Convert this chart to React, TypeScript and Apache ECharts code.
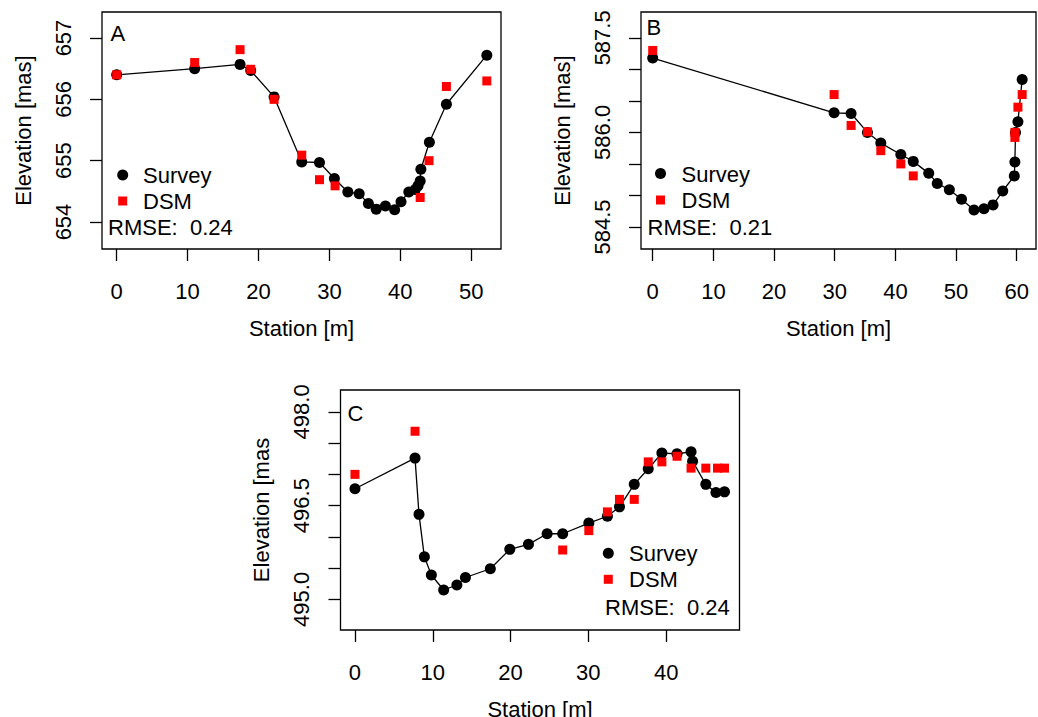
import React, { useEffect, useRef } from "react";
import * as echarts from "echarts";

// ---------- Data ----------
const stationA = [0, 11.0, 17.4, 18.9, 22.2, 26.1, 28.6, 30.7, 32.6, 34.2, 35.5, 36.6, 37.9, 39.2, 40.1, 41.2, 42.1, 42.5, 42.8, 42.9, 44.1, 46.5, 52.2];
const surveyA = [656.40, 656.50, 656.57, 656.47, 656.04, 654.98, 654.97, 654.71, 654.49, 654.46, 654.30, 654.21, 654.26, 654.20, 654.33, 654.49, 654.53, 654.59, 654.67, 654.86, 655.30, 655.92, 656.72];
const dsmStationA = [0, 11.0, 17.4, 18.9, 22.2, 26.1, 28.6, 30.8, 42.8, 44.05, 46.5, 52.2];
const dsmA = [656.40, 656.60, 656.81, 656.49, 656.00, 655.09, 654.69, 654.59, 654.40, 655.00, 656.21, 656.30];

const stationB = [0, 29.9, 32.7, 35.4, 37.6, 40.9, 42.95, 45.5, 46.9, 48.9, 50.9, 52.96, 54.6, 56.1, 57.7, 59.6, 59.7, 59.8, 60.2, 60.9];
const surveyB = [587.18, 586.31, 586.30, 586.00, 585.83, 585.65, 585.54, 585.35, 585.19, 585.09, 584.94, 584.77, 584.79, 584.85, 585.07, 585.31, 585.53, 586.00, 586.17, 586.84];
const dsmStationB = [0, 29.9, 32.7, 35.4, 37.6, 40.9, 42.95, 59.7, 59.7, 60.2, 60.9];
const dsmB = [587.30, 586.60, 586.11, 586.01, 585.71, 585.50, 585.31, 586.00, 585.92, 586.40, 586.60];

const stationC = [0, 7.72, 8.23, 8.92, 9.82, 11.4, 13.1, 14.2, 17.4, 19.9, 22.3, 24.7, 26.7, 30.06, 32.45, 34.0, 35.9, 37.7, 39.45, 41.4, 43.2, 43.4, 45.1, 46.4, 47.5];
const surveyC = [496.77, 497.26, 496.36, 495.68, 495.39, 495.15, 495.23, 495.35, 495.49, 495.80, 495.88, 496.05, 496.05, 496.22, 496.33, 496.48, 496.84, 497.09, 497.34, 497.33, 497.36, 497.21, 496.84, 496.71, 496.72];
const dsmStationC = [0, 7.72, 26.7, 30.06, 32.45, 34.0, 35.9, 37.7, 39.45, 41.4, 43.2, 45.1, 46.6, 47.5];
const dsmC = [497.0, 497.69, 495.79, 496.10, 496.40, 496.60, 496.60, 497.20, 497.20, 497.29, 497.10, 497.10, 497.10, 497.10];

const xTicksA = [0, 10, 20, 30, 40, 50];
const yTicksA = [654, 655, 656, 657];
const yLabelsA = [654, 655, 656, 657];
const xTicksB = [0, 10, 20, 30, 40, 50, 60];
const yTicksB = [584.5, 585, 585.5, 586, 586.5, 587, 587.5];
const yLabelsB = [584.5, 586.0, 587.5];
const xTicksC = [0, 10, 20, 30, 40];
const yTicksC = [495, 495.5, 496, 496.5, 497, 497.5, 498];
const yLabelsC = [495.0, 496.5, 498.0];

const panelLabels = ["A", "B", "C"];
const rmseValues = ["0.24", "0.21", "0.24"];
const seriesNames = ["Survey", "DSM"];

const FONT = '"Liberation Sans", Arial, Helvetica, sans-serif';
const FS = 22;

const zip = (xs: number[], ys: number[]) => xs.map((x, i) => [x, ys[i]]);

function xAxisOf(gridIndex: number, min: number, max: number, ticks: number[]) {
  return {
    type: "value",
    gridIndex,
    min,
    max,
    position: "bottom",
    axisLine: { show: false, onZero: false },
    splitLine: { show: false },
    axisTick: { show: true, inside: false, customValues: ticks, length: 12, lineStyle: { color: "#000", width: 1.3 } },
    axisLabel: {
      customValues: ticks,
      margin: 31,
      color: "#000",
      fontSize: FS,
      fontFamily: FONT,
      formatter: (v: number) => String(v),
    },
    name: "Station [m]",
    nameLocation: "middle",
    nameGap: 68,
    nameMoveOverlap: false,
    nameTextStyle: { color: "#000", fontSize: FS, fontFamily: FONT },
  };
}

function yAxisOf(gridIndex: number, min: number, max: number, ticks: number[], labels: number[], digits: number, name: string) {
  return {
    type: "value",
    gridIndex,
    min,
    max,
    position: "left",
    axisLine: { show: false, onZero: false },
    splitLine: { show: false },
    axisTick: { show: true, inside: false, customValues: ticks, length: 12, lineStyle: { color: "#000", width: 1.3 } },
    axisLabel: {
      customValues: labels,
      inside: false,
      rotate: 90,
      margin: 28,
      color: "#000",
      fontSize: FS,
      fontFamily: FONT,
      formatter: (v: number) => v.toFixed(digits),
    },
    name,
    nameLocation: "middle",
    nameGap: 68,
    nameMoveOverlap: false,
    nameTextStyle: { color: "#000", fontSize: FS, fontFamily: FONT },
  };
}

function surveySeries(idx: number, data: number[][]) {
  return {
    type: "line",
    name: seriesNames[0],
    xAxisIndex: idx,
    yAxisIndex: idx,
    data,
    clip: false,
    symbol: "circle",
    symbolSize: 11,
    showSymbol: true,
    itemStyle: { color: "#000", opacity: 1 },
    lineStyle: { color: "#000", width: 1.3 },
    z: 2,
  };
}

function dsmSeries(idx: number, data: number[][]) {
  return {
    type: "scatter",
    name: seriesNames[1],
    xAxisIndex: idx,
    yAxisIndex: idx,
    data,
    clip: false,
    symbol: "rect",
    symbolSize: 9,
    itemStyle: { color: "#ff0000", opacity: 1 },
    z: 3,
  };
}

function txt(x: number, y: number, text: string, align = "left") {
  return {
    type: "text",
    x,
    y,
    silent: true,
    style: { text, fill: "#000", fontSize: FS, fontFamily: FONT, align, verticalAlign: "middle" },
  };
}

function legendAt(cx: number, cyCircle: number, cySquare: number, textX: number, rmseX: number, rmseY: number, rmse: string) {
  return [
    { type: "circle", shape: { cx, cy: cyCircle, r: 5.5 }, style: { fill: "#000" }, silent: true },
    { type: "rect", shape: { x: cx - 4.5, y: cySquare - 4.5, width: 9, height: 9 }, style: { fill: "#ff0000" }, silent: true },
    txt(textX, cyCircle + 0.5, seriesNames[0]),
    txt(textX, cySquare + 0.5, seriesNames[1]),
    txt(rmseX, rmseY, "RMSE:  " + rmse),
  ];
}

export default function App() {
  const ref = useRef<HTMLDivElement>(null);
  useEffect(() => {
    if (!ref.current) return;
    const chart = echarts.init(ref.current, undefined, { renderer: "svg" });
    const gridBase = { show: true, borderColor: "#000", borderWidth: 1.3, backgroundColor: "transparent", containLabel: false, outerBoundsMode: "none" };
    const option = {
      animation: false,
      backgroundColor: "#fff",
      grid: [
        { ...gridBase, left: 102, top: 12, width: 399, height: 237 },
        { ...gridBase, left: 641, top: 12, width: 395, height: 237 },
        { ...gridBase, left: 340.5, top: 390, width: 399, height: 240 },
      ],
      xAxis: [
        xAxisOf(0, -2.07, 54.2, xTicksA),
        xAxisOf(1, -1.93, 63.18, xTicksB),
        xAxisOf(2, -1.86, 49.43, xTicksC),
      ],
      yAxis: [
        yAxisOf(0, 653.56, 657.424, yTicksA, yLabelsA, 0, "Elevation [mas]"),
        yAxisOf(1, 584.15, 587.91, yTicksB, yLabelsB, 1, "Elevation [mas]"),
        yAxisOf(2, 494.51, 498.35, yTicksC, yLabelsC, 1, "Elevation [mas"),
      ],
      series: [
        surveySeries(0, zip(stationA, surveyA)),
        dsmSeries(0, zip(dsmStationA, dsmA)),
        surveySeries(1, zip(stationB, surveyB)),
        dsmSeries(1, zip(dsmStationB, dsmB)),
        surveySeries(2, zip(stationC, surveyC)),
        dsmSeries(2, zip(dsmStationC, dsmC)),
      ],
      graphic: [
        txt(110.5, 33, panelLabels[0]),
        txt(646.5, 27, panelLabels[1]),
        txt(347.5, 413, panelLabels[2]),
        ...legendAt(122.7, 175, 201, 143, 108, 227, rmseValues[0]),
        ...legendAt(660.5, 173.5, 200, 681.5, 647.5, 227, rmseValues[1]),
        ...legendAt(608.3, 553.3, 579.3, 629, 605, 607, rmseValues[2]),
      ],
    };
    chart.setOption(option as any);
    return () => chart.dispose();
  }, []);
  return <div ref={ref} style={{ position: "fixed", left: 0, top: 0, width: 1038, height: 717 }} />;
}
